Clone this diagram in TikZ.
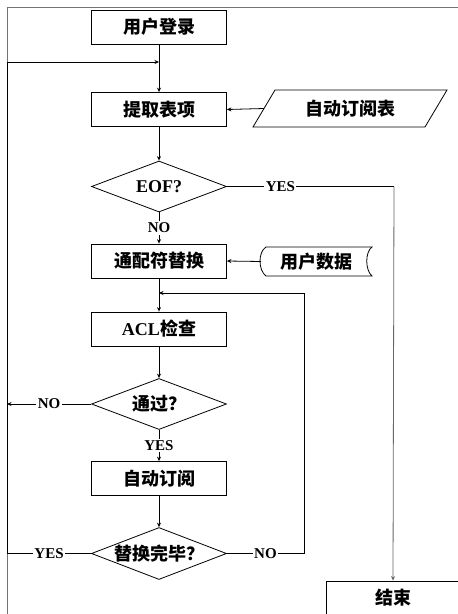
\documentclass[tikz,border=0pt]{standalone}
\usepackage{fontspec}
\setmainfont{Liberation Serif}
\newfontfamily\cjk{Noto Sans CJK SC}
\usetikzlibrary{shapes.geometric,arrows.meta}
\begin{document}
\begin{tikzpicture}[x=1pt,y=-1pt,
  box/.style={draw,line width=0.8pt,minimum width=135pt,minimum height=34pt,inner sep=0pt,font=\cjk\bfseries\fontsize{18}{18}\selectfont},
  dia/.style={draw,diamond,line width=0.8pt,minimum width=135pt,minimum height=51pt,inner sep=0pt,aspect=2.6,font=\cjk\bfseries\fontsize{18}{18}\selectfont},
  plain/.style={inner sep=0pt,font=\cjk\bfseries\fontsize{18}{18}\selectfont},
  arr/.style={-{Stealth[length=4.5pt,width=4pt]},line width=0.8pt},
  lab/.style={fill=white,inner sep=1.5pt,font=\rmfamily\bfseries\fontsize{15}{15}\selectfont},
  ]
\useasboundingbox (0,0) rectangle (458,614);
\clip (0,0) rectangle (458,614);
% frame
\draw[black!55,line width=0.8pt] (458,7) -| (7,614);
% nodes
\node[box] (login) at (159,27) {用户登录};
\node[box] (fetch) at (159,109.5) {提取表项};
\node[dia,font=\rmfamily\bfseries\fontsize{18}{18}\selectfont] (eof) at (159,186.5) {EOF?};
\node[box] (wild) at (159,261) {通配符替换};
\node[box] (acl) at (159,329) {{\rmfamily\bfseries ACL}检查};
\node[dia] (pass) at (159,404) {通过？};
\node[box] (auto) at (159,478.5) {自动订阅};
\node[dia] (done) at (159,553.5) {替换完毕？};
\node[box,minimum width=134pt] (end) at (393,598) {结束};
% parallelogram
\draw[line width=0.8pt] (253,127) -- (275,90) -- (447,90) -- (425,127) -- cycle;
\node[plain] (subtab) at (350,108.5) {自动订阅表};
\coordinate (subin) at (264,108.5);
% stored data
\draw[line width=0.8pt] (266,247) .. controls (258,252) and (258,270) .. (266,276) -- (372,276) .. controls (365,270) and (365,252) .. (372,247) -- cycle;
\node[plain] (udata) at (316,261.5) {用户数据};
\coordinate (udin) at (261,261.5);
% helper coordinates
\coordinate (lj) at (159,62);
\coordinate (L1) at (7,553.5);
\coordinate (L3) at (7,404);
\coordinate (R0) at (304,553.5);
\coordinate (R1) at (159,293);
\coordinate (E0) at (394,186.5);
% connectors
\draw[arr] (login) -- (fetch);
\draw[arr] (done.west) -- node[lab]{YES} (L1) |- (lj);
\draw[arr] (subin) -- (fetch.east);
\draw[arr] (fetch) -- (eof);
\draw[line width=0.8pt] (eof.east) -- node[lab,pos=0.32]{YES} (E0);
\draw[arr,black!60] (E0) -- (end.north);
\draw[arr] (eof.south) -- node[lab]{NO} (wild.north);
\draw[arr] (udin) -- (wild.east);
\draw[arr] (wild) -- (acl);
\draw[arr] (acl) -- (pass);
\draw[arr] (pass.west) -- node[lab]{NO} (L3);
\draw[arr] (pass.south) -- node[lab]{YES} (auto.north);
\draw[arr] (auto) -- (done);
\draw[arr] (done.east) -- node[lab]{NO} (R0) |- (R1);
\end{tikzpicture}
\end{document}
